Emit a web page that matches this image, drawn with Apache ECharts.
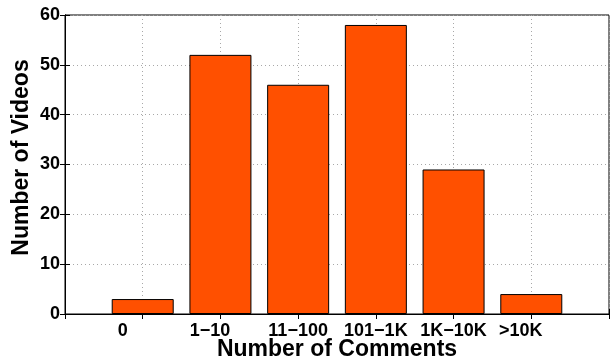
<!DOCTYPE html>
<html>
<head>
<meta charset="utf-8">
<script src="https://cdn.jsdelivr.net/npm/echarts@6/dist/echarts.min.js"></script>
<style>
  html, body { margin: 0; padding: 0; background: #fff; }
  #chart { width: 610px; height: 360px; }
</style>
</head>
<body>
<div id="chart"></div>
<script>
// comment buckets and how many videos fall in each
const categories = ['0', '1\u221210', '11\u2212100', '101\u22121K', '1K\u221210K', '>10K']
const videoCounts = [3, 52, 46, 58, 29, 4]
const yTicks = [0, 10, 20, 30, 40, 50, 60]

const font = "'Liberation Sans', Arial, Helvetica, sans-serif"
const barColor = '#FF5000'

let mycharts = echarts.init(document.getElementById('chart'), null, { renderer: 'canvas' })

// bars sit on x = 1..6, axis runs 0..7 like matlab
const barData = videoCounts.map((v, i) => [i + 1, v])

const gridLine = {
  show: true,
  lineStyle: { color: '#a8a8a8', type: [1, 3], width: 1 },
}

mycharts.setOption({
  animation: false,
  grid: {
    left: 65,
    right: 1,
    top: 15,
    bottom: 46,
    containLabel: false,
    outerBoundsMode: 'none',
    show: true,
    borderColor: '#000',
    borderWidth: 1,
  },
  xAxis: [
    {
      type: 'value',
      min: 0,
      max: 7,
      interval: 1,
      name: 'Number of Comments',
      nameLocation: 'middle',
      nameGap: 24,
      nameMoveOverlap: false,
      nameTextStyle: { fontFamily: font, fontWeight: 'bold', fontSize: 23, color: '#000' },
      axisLine: { show: true, lineStyle: { color: '#000', width: 1 } },
      axisTick: { show: true, inside: true, length: 5, lineStyle: { color: '#000' } },
      splitLine: gridLine,
      axisLabel: {
        fontFamily: font,
        fontWeight: 'bold',
        fontSize: 18,
        color: '#000',
        margin: 8,
        formatter: function (v) {
          let name = categories[v - 1]
          if (name === undefined) return ''
          if (v === 1) return '{a|' + name + '}'
          if (v === 2 || v === 6) return '{b|' + name + '}'
          return name
        },
        rich: {
          a: { fontFamily: font, fontWeight: 'bold', fontSize: 18, color: '#000', padding: [0, 40, 0, 0] },
          b: { fontFamily: font, fontWeight: 'bold', fontSize: 18, color: '#000', padding: [0, 21, 0, 0] },
        },
      },
    },
    {
      type: 'value',
      position: 'top',
      min: 0,
      max: 7,
      interval: 1,
      axisLine: { show: true, lineStyle: { color: '#000' } },
      axisTick: { show: true, inside: true, length: 5, lineStyle: { color: '#000' } },
      axisLabel: { show: false },
      splitLine: { show: false },
    },
  ],
  yAxis: [
    {
      type: 'value',
      min: yTicks[0],
      max: yTicks[yTicks.length - 1],
      interval: 10,
      name: 'Number of Videos',
      nameLocation: 'middle',
      nameGap: 32,
      nameMoveOverlap: false,
      nameTextStyle: { fontFamily: font, fontWeight: 'bold', fontSize: 23, color: '#000', padding: [0, 0, 0, 14] },
      axisLine: { show: true, lineStyle: { color: '#000', width: 1 } },
      axisTick: { show: true, inside: true, length: 5, lineStyle: { color: '#000' } },
      splitLine: gridLine,
      axisLabel: {
        fontFamily: font,
        fontWeight: 'bold',
        fontSize: 18,
        color: '#000',
        margin: 5,
      },
    },
    {
      type: 'value',
      position: 'right',
      min: yTicks[0],
      max: yTicks[yTicks.length - 1],
      interval: 10,
      axisLine: { show: true, lineStyle: { color: '#000' } },
      axisTick: { show: true, inside: true, length: 5, lineStyle: { color: '#000' } },
      axisLabel: { show: false },
      splitLine: { show: false },
    },
  ],
  series: [
    {
      type: 'bar',
      xAxisIndex: 0,
      yAxisIndex: 0,
      data: barData,
      barWidth: 62,
      itemStyle: {
        color: barColor,
        borderColor: '#000',
        borderWidth: 1,
      },
    },
  ],
})
</script>
</body>
</html>
